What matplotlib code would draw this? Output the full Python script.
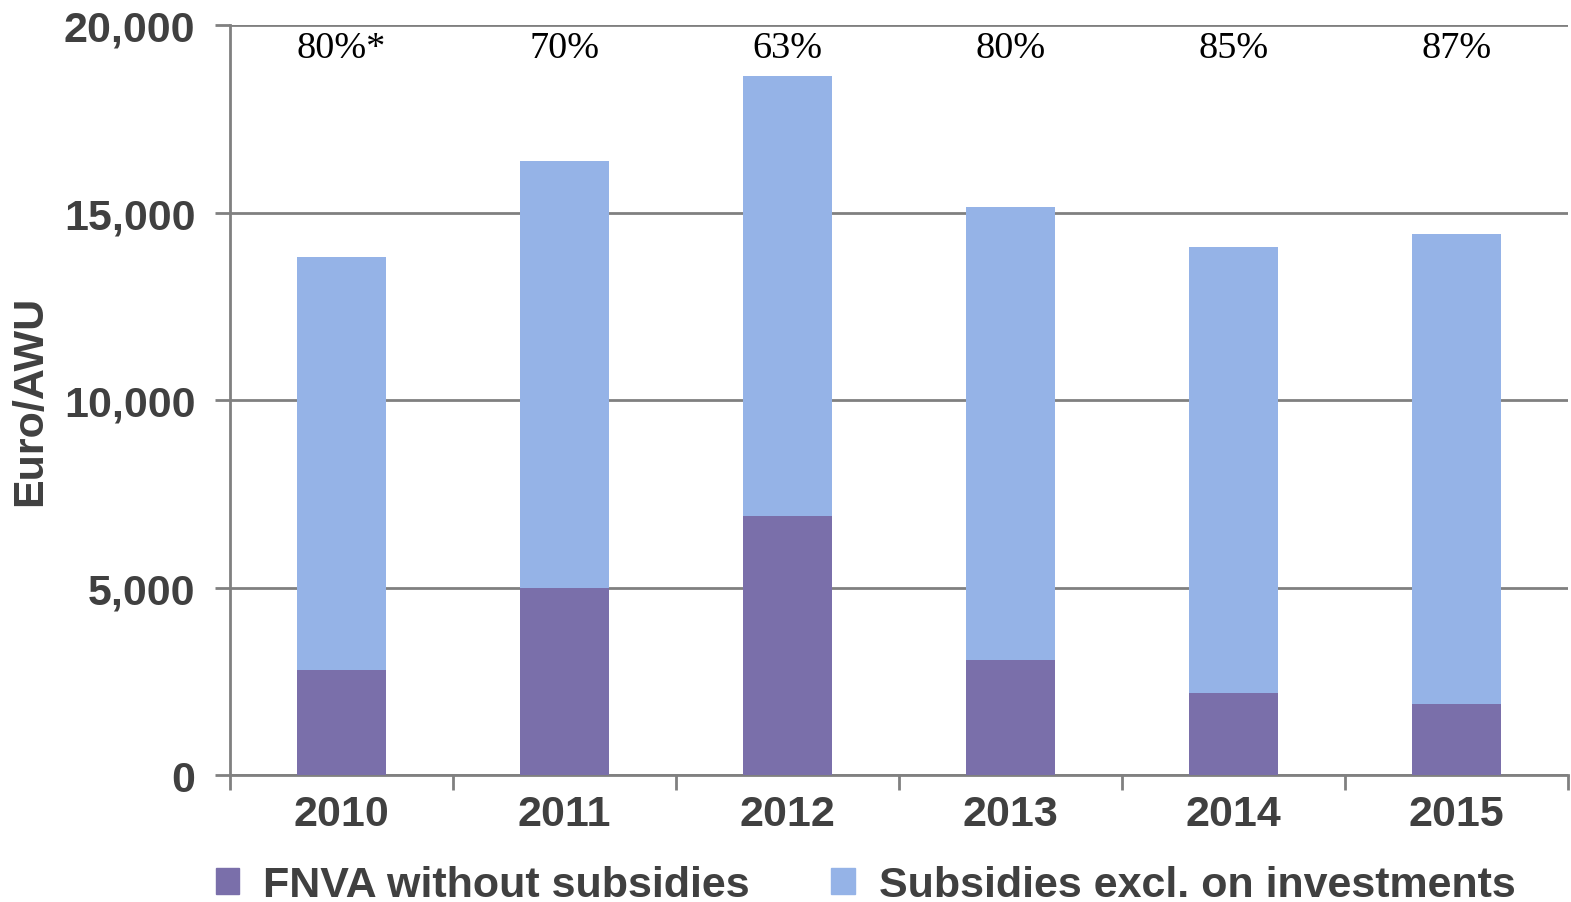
import numpy as np
import matplotlib.pyplot as plt
from matplotlib.patches import Patch

# Farm net value added per annual work unit, split into market part and subsidies
years = ['2010', '2011', '2012', '2013', '2014', '2015']
fnva_no_subsidies = [2800, 4990, 6910, 3070, 2190, 1890]
subsidies = [11010, 11380, 11730, 12080, 11890, 12540]
share_labels = ['80%*', '70%', '63%', '80%', '85%', '87%']

purple = '#7a6faa'
blue = '#95b3e7'
grey = '#808080'
text_col = '#404040'

plt.rcParams['font.family'] = ['Liberation Sans', 'DejaVu Sans']

fig = plt.figure(figsize=(15.71, 9.03), dpi=100)
ax = fig.add_axes([0.1464, 0.1406, 0.8516, 0.8306])

x = np.arange(len(years))
ax.bar(x, fnva_no_subsidies, width=0.4, color=purple, zorder=3)
ax.bar(x, subsidies, width=0.4, bottom=fnva_no_subsidies, color=blue, zorder=3)

# percentage of subsidies in total income, printed along the top
for xi, lab in zip(x, share_labels):
    ax.text(xi, 19400, lab, ha='center', va='center', fontsize=27.5,
            family=['Liberation Serif'], color='black', zorder=4)

ax.set_xlim(-0.5, len(years) - 0.5)
ax.set_ylim(0, 20000)
ax.set_yticks(np.arange(0, 20001, 5000))
ax.set_yticklabels([f'{v:,}' for v in range(0, 20001, 5000)])
ax.yaxis.grid(True, color=grey, linewidth=2, zorder=0)
ax.set_axisbelow(True)

ax.set_xticks(x)
ax.set_xticklabels(years)
ax.set_xticks(np.arange(-0.5, len(years)), minor=True)
ax.tick_params(axis='x', which='major', length=0, pad=14)
ax.tick_params(axis='x', which='minor', length=11, width=2, color=grey)
ax.tick_params(axis='y', length=11, width=2, color=grey, pad=14)
for lab in ax.get_xticklabels() + ax.get_yticklabels():
    lab.set_fontsize(31)
    lab.set_fontweight('bold')
    lab.set_color(text_col)

for side in ['top', 'right']:
    ax.spines[side].set_visible(False)
for side in ['left', 'bottom']:
    ax.spines[side].set_color(grey)
    ax.spines[side].set_linewidth(2)

ax.set_ylabel('Euro/AWU', fontsize=31, fontweight='bold', color=text_col, labelpad=10)

handles = [Patch(color=purple, label='FNVA without subsidies'),
           Patch(color=blue, label='Subsidies excl. on investments')]
leg = fig.legend(handles=handles, loc='center', bbox_to_anchor=(0.551, 0.019), ncol=2,
                 frameon=False, fontsize=31, handlelength=0.55, handleheight=0.55,
                 handletextpad=0.55, columnspacing=1.9)
for t in leg.get_texts():
    t.set_fontweight('bold')
    t.set_color(text_col)

fig.savefig('out.png', dpi=100)
